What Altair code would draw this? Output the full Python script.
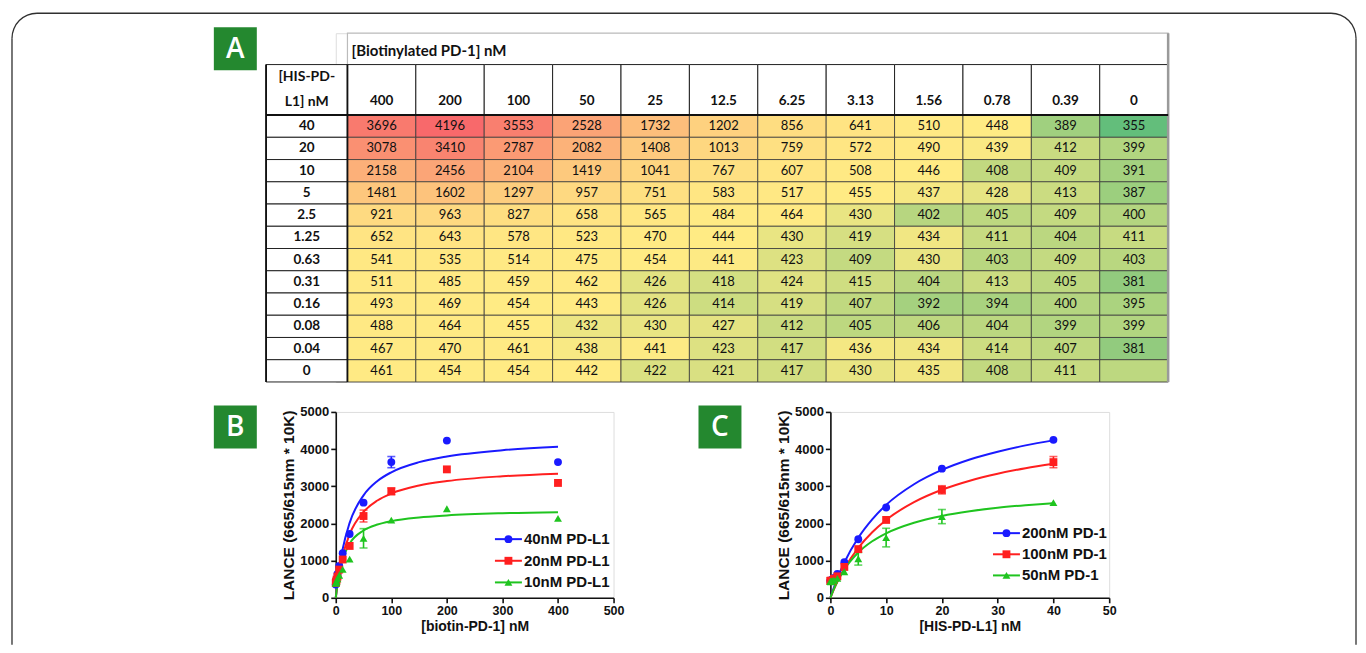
import altair as alt
import pandas as pd

# ---------------- data: table A ----------------
pd1_labels = ["400", "200", "100", "50", "25", "12.5", "6.25", "3.13", "1.56", "0.78", "0.39", "0"]
pdl1_labels = ["40", "20", "10", "5", "2.5", "1.25", "0.63", "0.31", "0.16", "0.08", "0.04", "0"]

row_40 = [3696, 4196, 3553, 2528, 1732, 1202, 856, 641, 510, 448, 389, 355]
row_20 = [3078, 3410, 2787, 2082, 1408, 1013, 759, 572, 490, 439, 412, 399]
row_10 = [2158, 2456, 2104, 1419, 1041, 767, 607, 508, 446, 408, 409, 391]
row_5 = [1481, 1602, 1297, 957, 751, 583, 517, 455, 437, 428, 413, 387]
row_2_5 = [921, 963, 827, 658, 565, 484, 464, 430, 402, 405, 409, 400]
row_1_25 = [652, 643, 578, 523, 470, 444, 430, 419, 434, 411, 404, 411]
row_0_63 = [541, 535, 514, 475, 454, 441, 423, 409, 430, 403, 409, 403]
row_0_31 = [511, 485, 459, 462, 426, 418, 424, 415, 404, 413, 405, 381]
row_0_16 = [493, 469, 454, 443, 426, 414, 419, 407, 392, 394, 400, 395]
row_0_08 = [488, 464, 455, 432, 430, 427, 412, 405, 406, 404, 399, 399]
row_0_04 = [467, 470, 461, 438, 441, 423, 417, 436, 434, 414, 407, 381]
row_0 = [461, 454, 454, 442, 422, 421, 417, 430, 435, 408, 411, None]
table_rows = [row_40, row_20, row_10, row_5, row_2_5, row_1_25, row_0_63,
              row_0_31, row_0_16, row_0_08, row_0_04, row_0]

table_title = "[Biotinylated PD-1] nM"
row_header = ["[HIS-PD-", "L1] nM"]

# ---------------- data: panel B ----------------
b_series = ["40nM PD-L1", "20nM PD-L1", "10nM PD-L1"]
b_x = [400, 200, 100, 50, 25, 12.5, 6.25, 3.13, 1.56, 0.78, 0.39, 0]
b_40 = [3650, 4230, 3650, 2560, 1715, 1200, 856, 641, 510, 448, 389, 355]
b_40_sd = [0, 0, 150, 0, 0, 0, 0, 0, 0, 0, 0, 0]
b_20 = [3090, 3455, 2865, 2200, 1395, 1030, 759, 572, 490, 439, 412, 399]
b_20_sd = [0, 0, 90, 160, 0, 0, 0, 0, 0, 0, 0, 0]
b_10 = [2135, 2395, 2090, 1600, 1040, 767, 607, 508, 446, 408, 409, 391]
b_10_sd = [0, 0, 0, 260, 0, 0, 0, 0, 0, 0, 0, 0]
b_fit_x = [0, 1.56, 3.13, 6.25, 12.5, 25, 50, 75, 100, 150, 200, 300, 400]
b_fit_40 = [0, 222, 424, 772, 1312, 2016, 2756, 3141, 3377, 3649, 3803, 3971, 4061]
b_fit_20 = [0, 193, 368, 667, 1123, 1708, 2310, 2618, 2804, 3020, 3140, 3270, 3340]
b_fit_10 = [0, 210, 388, 669, 1044, 1455, 1810, 1971, 2063, 2163, 2217, 2275, 2304]

# ---------------- data: panel C ----------------
c_series = ["200nM PD-1", "100nM PD-1", "50nM PD-1"]
c_x = [40, 20, 10, 5, 2.5, 1.25, 0.63, 0.31, 0.16, 0.08, 0.04, 0]
c_200 = [4250, 3475, 2430, 1575, 955, 643, 535, 485, 469, 464, 470, 454]
c_200_sd = [0, 0, 0, 0, 0, 0, 0, 0, 0, 0, 0, 0]
c_100 = [3650, 2905, 2095, 1310, 830, 578, 514, 459, 454, 455, 461, 454]
c_100_sd = [150, 110, 0, 0, 0, 0, 0, 0, 0, 0, 0, 0]
c_50 = [2560, 2185, 1620, 1050, 700, 523, 475, 462, 443, 432, 438, 442]
c_50_sd = [0, 190, 250, 170, 0, 0, 0, 0, 0, 0, 0, 0]
c_fit_x = [0, 0.63, 1.25, 2.5, 5, 7.5, 10, 15, 20, 25, 30, 35, 40]
c_fit_200 = [0, 275, 520, 950, 1615, 2110, 2500, 3055, 3440, 3720, 3930, 4100, 4235]
c_fit_100 = [0, 225, 427, 783, 1344, 1765, 2095, 2574, 2907, 3151, 3338, 3486, 3606]
c_fit_50 = [0, 238, 438, 764, 1219, 1521, 1736, 2021, 2202, 2328, 2422, 2490, 2545]

y_title = "LANCE (665/615nm * 10K)"

# ---------------- styles ----------------
GREEN_BOX = "#24882f"
SER_COLORS = ["#1a1aff", "#ff1f1f", "#1fc41f"]
SER_SHAPES = ["circle", "square", "triangle-up"]
TFONT = "Lato"
AFONT = "Liberation Sans"
BORDER = "#2f2f2f"

# ---------------- table A ----------------
LABW = 81.4 / 68.42
TITLE_H = 1.41
HEAD_H = 2.27
Y0 = TITLE_H + HEAD_H
NR = len(pdl1_labels)
NC = len(pd1_labels)

xsc = alt.Scale(domain=[-11.7 / 68.42, NC], nice=False, zero=False)
ysc = alt.Scale(domain=[0, Y0 + NR], nice=False, zero=False, reverse=True)

cells = []
for i, (rl, vals) in enumerate(zip(pdl1_labels, table_rows)):
    for j, (cl, v) in enumerate(zip(pd1_labels, vals)):
        cells.append(dict(x0=j, x1=j + 1, y0=Y0 + i, y1=Y0 + i + 1,
                          xc=j + 0.5, yc=Y0 + i + 0.5, v=v,
                          txt="" if v is None else str(v)))
cells_df = pd.DataFrame(cells)
vals_all = sorted(v for r in table_rows for v in r if v is not None)
vmed = vals_all[len(vals_all) // 2]

white = [dict(x0=-LABW, x1=0, y0=TITLE_H, y1=Y0)]
for i in range(NR):
    white.append(dict(x0=-LABW, x1=0, y0=Y0 + i, y1=Y0 + i + 1))
for j in range(NC):
    white.append(dict(x0=j, x1=j + 1, y0=TITLE_H, y1=Y0))
white_df = pd.DataFrame(white)
title_df = pd.DataFrame([dict(x0=0, x1=NC, y0=0, y1=TITLE_H, t=table_title, xt=0.06, yt=0.82)])

rowlab_df = pd.DataFrame([dict(t=l, x=-LABW / 2, y=Y0 + i + 0.5) for i, l in enumerate(pdl1_labels)])
collab_df = pd.DataFrame([dict(t=l, x=j + 0.5, y=3.05) for j, l in enumerate(pd1_labels)])
rowhead_df = pd.DataFrame([dict(t=row_header[0], x=-LABW / 2, y=1.98),
                           dict(t=row_header[1], x=-LABW / 2, y=3.08)])

def XQ(f):
    return alt.X(f, type="quantitative", scale=xsc, axis=None)

def YQ(f):
    return alt.Y(f, type="quantitative", scale=ysc, axis=None)

tb_white = alt.Chart(white_df).mark_rect(fill="white", stroke="#222", strokeWidth=1).encode(
    x=XQ("x0"), x2="x1", y=YQ("y0"), y2="y1")
tb_title_box = alt.Chart(title_df).mark_rect(fill="white", stroke="#bbb", strokeWidth=1.2).encode(
    x=XQ("x0"), x2="x1", y=YQ("y0"), y2="y1")
tb_title = alt.Chart(title_df).mark_text(align="left", baseline="middle", font=TFONT, fontWeight="bold",
                                         fontSize=15, color="#111").encode(x=XQ("xt"), y=YQ("yt"), text="t:N")
tb_cells = alt.Chart(cells_df).transform_filter("datum.v != null").mark_rect(
    stroke="#3a3a3a", strokeWidth=0.8).encode(
    x=XQ("x0"), x2="x1", y=YQ("y0"), y2="y1",
    color=alt.Color("v:Q", legend=None,
                    scale=alt.Scale(domain=[vals_all[0], vmed, vals_all[-1]],
                                    range=["#63BE7B", "#FFEB84", "#F8696B"], interpolate="rgb")))
tb_blank = alt.Chart(cells_df).transform_filter("datum.v == null").mark_rect(
    fill="#BDD880", stroke="#3a3a3a", strokeWidth=0.8).encode(
    x=XQ("x0"), x2="x1", y=YQ("y0"), y2="y1")
tb_vals = alt.Chart(cells_df).mark_text(baseline="middle", font=TFONT, fontSize=13, color="#111").encode(
    x=XQ("xc"), y=YQ("yc"), text="txt:N")
tb_rowlab = alt.Chart(rowlab_df).mark_text(baseline="middle", font=TFONT, fontWeight="bold", fontSize=13.5,
                                           color="#111").encode(x=XQ("x"), y=YQ("y"), text="t:N")
tb_collab = alt.Chart(collab_df).mark_text(baseline="middle", font=TFONT, fontWeight="bold", fontSize=13.5,
                                           color="#111").encode(x=XQ("x"), y=YQ("y"), text="t:N")
tb_rowhead = alt.Chart(rowhead_df).mark_text(baseline="middle", font=TFONT, fontWeight="bold", fontSize=14,
                                             color="#111").encode(x=XQ("x"), y=YQ("y"), text="t:N")
sep_df = pd.DataFrame([dict(x0=-LABW, x1=NC, y0=Y0, y1=Y0)])
tb_sep = alt.Chart(sep_df).mark_rule(color="#111", strokeWidth=2).encode(
    x=XQ("x0"), x2="x1", y=YQ("y0"))
vsep_df = pd.DataFrame([dict(x0=0, y0=TITLE_H, y1=Y0 + NR), dict(x0=-LABW, y0=TITLE_H, y1=Y0 + NR)])
tb_vsep = alt.Chart(vsep_df).mark_rule(color="#111", strokeWidth=1.8).encode(
    x=XQ("x0"), y=YQ("y0"), y2="y1")
shadow_df = pd.DataFrame([dict(x0=NC, y0=0, y1=Y0 + NR)])
tb_shadow = alt.Chart(shadow_df).mark_rule(color="#9a9a9a", strokeWidth=2.5).encode(
    x=XQ("x0"), y=YQ("y0"), y2="y1")

one = pd.DataFrame({"k": [0]})

def letter_box(letter, bx, by):
    box = alt.Chart(one).mark_rect(fill=GREEN_BOX).encode(
        x=alt.value(bx), x2=alt.value(bx + 43), y=alt.value(by), y2=alt.value(by + 43))
    txt = alt.Chart(one).mark_text(text=letter, font="Open Sans", fontSize=28, fontWeight=600, color="white",
                                   baseline="middle", align="center").encode(
        x=alt.value(bx + 21.5), y=alt.value(by + 22.5))
    return [box, txt]

# rounded frame (relative to table origin at page (334, 31))
fr_l, fr_r, fr_t, fr_b, rad = -324, 1021, -20, 612, 25
frame = [
    alt.Chart(one).mark_rule(color=BORDER, strokeWidth=1.3).encode(
        x=alt.value(fr_l + rad), x2=alt.value(fr_r - rad), y=alt.value(fr_t)),
    alt.Chart(one).mark_rule(color=BORDER, strokeWidth=1.3).encode(
        x=alt.value(fr_l), y=alt.value(fr_t + rad), y2=alt.value(fr_b)),
    alt.Chart(one).mark_rule(color=BORDER, strokeWidth=1.3).encode(
        x=alt.value(fr_r), y=alt.value(fr_t + rad), y2=alt.value(fr_b)),
    alt.Chart(one).mark_arc(color=BORDER, radius=rad + 0.65, radius2=rad - 0.65,
                            theta=4.71239, theta2=6.28319).encode(
        x=alt.value(fr_l + rad), y=alt.value(fr_t + rad)),
    alt.Chart(one).mark_arc(color=BORDER, radius=rad + 0.65, radius2=rad - 0.65,
                            theta=0, theta2=1.5708).encode(
        x=alt.value(fr_r - rad), y=alt.value(fr_t + rad)),
]

table = alt.layer(
    *frame, tb_title_box, tb_white, tb_cells, tb_blank, tb_shadow, tb_sep, tb_vsep,
    tb_title, tb_vals, tb_rowlab, tb_collab, tb_rowhead,
    *letter_box("A", -122, -6)
).properties(width=833, height=349)

# ---------------- binding panels ----------------
def panel(series, px, pys, psds, fx, fys, xmax, xvals, xtitle, width, letter, box_x, leg_x, leg_ys):
    pts = pd.DataFrame([{"series": s, "x": x, "y": y, "lo": y - sd, "hi": y + sd, "sd": sd}
                        for s, ys_, sds in zip(series, pys, psds) for x, y, sd in zip(px, ys_, sds)])
    fit = pd.DataFrame([{"series": s, "x": x, "y": y} for s, ys_ in zip(series, fys) for x, y in zip(fx, ys_)])
    leg = pd.DataFrame({"series": series})
    color = alt.Color("series:N", scale=alt.Scale(domain=series, range=SER_COLORS), legend=None)
    shape = alt.Shape("series:N", scale=alt.Scale(domain=series, range=SER_SHAPES), legend=None)
    xs = alt.Scale(domain=[0, xmax], nice=False, zero=True)
    ysc_ = alt.Scale(domain=[0, 5000], nice=False, zero=True)
    common = dict(domainColor="#111", domainWidth=1.6, tickColor="#111", tickWidth=1.6, tickSize=5,
                  labelFont=AFONT, labelFontWeight="bold", labelColor="#111", labelPadding=2,
                  titleFont=AFONT, titleFontWeight="bold", titleColor="#111",
                  grid=False, labelFlush=False, labelOverlap=False, format="d")
    X = alt.X("x:Q", scale=xs, axis=alt.Axis(values=xvals, title=xtitle, labelFontSize=12.5,
                                              titleFontSize=14, titlePadding=2, **common))
    Yax = alt.Y("y:Q", scale=ysc_, axis=alt.Axis(values=[0, 1000, 2000, 3000, 4000, 5000], title=y_title,
                                                 labelFontSize=13, titleFontSize=15.5, titlePadding=3,
                                                 **common))
    def Yn(f):
        return alt.Y(f, type="quantitative", scale=ysc_, axis=None)

    lines = alt.Chart(fit).mark_line(strokeWidth=2, interpolate="monotone").encode(
        x=X, y=Yax, color=color, detail="series:N")
    eb = alt.Chart(pts).transform_filter("datum.sd > 0")
    err = eb.mark_rule(strokeWidth=1.6).encode(x=X, y=Yn("lo"), y2="hi", color=color)
    cap_lo = eb.mark_tick(orient="horizontal", size=8, thickness=1.6).encode(x=X, y=Yn("lo"), color=color)
    cap_hi = eb.mark_tick(orient="horizontal", size=8, thickness=1.6).encode(x=X, y=Yn("hi"), color=color)
    points = alt.Chart(pts).mark_point(filled=True, size=62, opacity=1).encode(
        x=X, y=Yn("y"), color=color, shape=shape)

    legY = alt.Y("series:N", scale=alt.Scale(type="point", domain=series, range=leg_ys, padding=0), axis=None)
    leg_line = alt.Chart(leg).mark_rule(strokeWidth=2).encode(
        x=alt.value(leg_x), x2=alt.value(leg_x + 27), y=legY, color=color)
    leg_pt = alt.Chart(leg).mark_point(filled=True, size=62, opacity=1).encode(
        x=alt.value(leg_x + 13.5), y=legY, color=color, shape=shape)
    leg_txt = alt.Chart(leg).mark_text(align="left", baseline="middle", font=AFONT, fontWeight="bold",
                                       fontSize=15, color="#111").encode(
        x=alt.value(leg_x + 29), y=legY, text="series:N")
    return alt.layer(lines, err, cap_lo, cap_hi, points, leg_line, leg_pt, leg_txt,
                     *letter_box(letter, box_x, -6.4)).resolve_scale(y="independent").properties(
        width=width, height=186)

panel_b = panel(b_series, b_x, [b_40, b_20, b_10], [b_40_sd, b_20_sd, b_10_sd],
                b_fit_x, [b_fit_40, b_fit_20, b_fit_10], 500, [0, 100, 200, 300, 400, 500],
                "[biotin-PD-1] nM", 278, "B", -122, 159.3, [127.3, 170.6])
panel_c = panel(c_series, c_x, [c_200, c_100, c_50], [c_200_sd, c_100_sd, c_50_sd],
                c_fit_x, [c_fit_200, c_fit_100, c_fit_50], 50, [0, 10, 20, 30, 40, 50],
                "[HIS-PD-L1] nM", 279, "C", -132, 162.7, [121.3, 163.6])

bottom = alt.hconcat(panel_b, panel_c, spacing=217, bounds="flush")
chart = alt.vconcat(table, bottom, spacing=30, bounds="flush").properties(
    padding={"left": 2, "top": 3, "right": 0, "bottom": 0}
).configure_view(strokeWidth=0).configure(background="white")

chart.save("out.html", embed_options={"renderer": "svg", "actions": False})
